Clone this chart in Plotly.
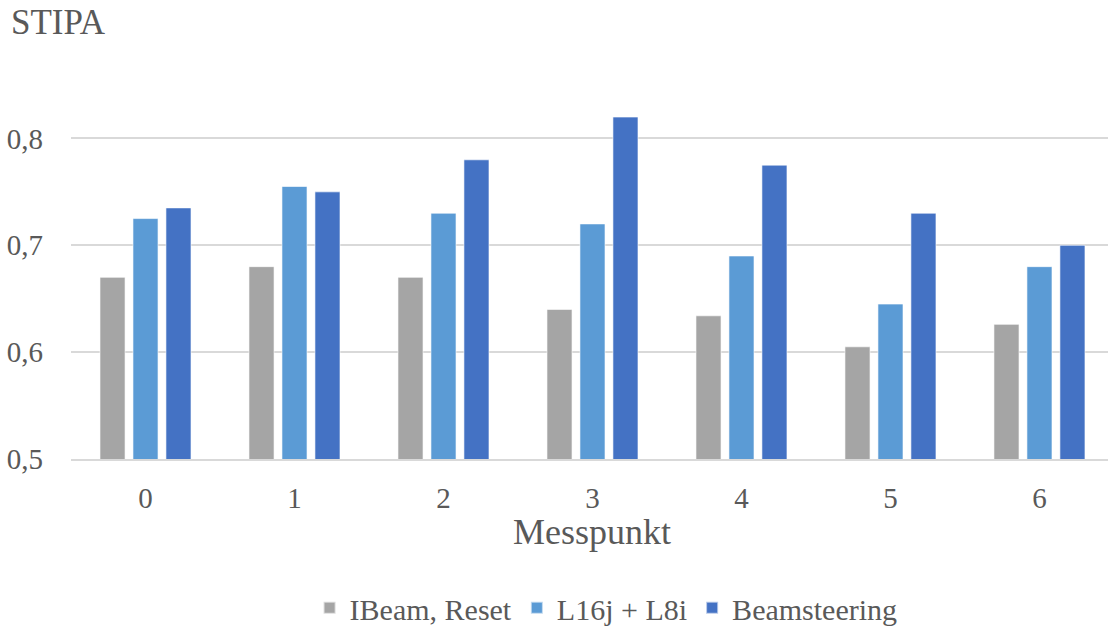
import plotly.graph_objects as go

categories = ["0", "1", "2", "3", "4", "5", "6"]
ibeam_reset = [0.67, 0.68, 0.67, 0.64, 0.634, 0.605, 0.626]
l16j_l8i = [0.725, 0.755, 0.73, 0.72, 0.69, 0.645, 0.68]
beamsteering = [0.735, 0.75, 0.78, 0.82, 0.775, 0.73, 0.70]
series_names = ["IBeam, Reset", "L16j + L8i", "Beamsteering"]
y_ticks = [0.5, 0.6, 0.7, 0.8]

colors = ["#A5A5A5", "#5B9BD5", "#4472C4"]
FONT = "'Liberation Serif', 'Times New Roman', 'DejaVu Serif', serif"
TXT = "#595959"

fig = go.Figure()
for name, vals, col in zip(series_names, [ibeam_reset, l16j_l8i, beamsteering], colors):
    fig.add_trace(go.Bar(
        x=list(range(len(categories))), y=vals, name=name,
        marker=dict(color=col, line=dict(color="rgba(255,255,255,0.6)", width=1)),
    ))

fig.update_layout(
    width=1108, height=626,
    margin=dict(l=71, r=0, t=85, b=167, autoexpand=False),
    paper_bgcolor="white", plot_bgcolor="white",
    barmode="group", bargap=0.336, bargroupgap=0.24,
    separators=", ",
    font=dict(family=FONT, color=TXT, size=28),
    showlegend=True,
    legend=dict(orientation="h", x=0.516, xanchor="center", y=-0.398, yanchor="middle",
                font=dict(size=30, color=TXT, family=FONT), itemsizing="constant",
                traceorder="normal", itemwidth=30, tracegroupgap=0),
    xaxis=dict(
        range=[-0.5, 6.46], tickmode="array",
        tickvals=list(range(len(categories))), ticktext=categories,
        showgrid=False, showline=True, linecolor="#D9D9D9", linewidth=2,
        ticks="", ticklabelstandoff=12, tickfont=dict(size=29, color=TXT, family=FONT),
    ),
    yaxis=dict(
        range=[0.5, 0.85], tickmode="array", tickvals=y_ticks, tickformat=".1f",
        showgrid=True, gridcolor="#D9D9D9", gridwidth=2, zeroline=False,
        showline=False, ticks="", ticklabelstandoff=27,
        tickfont=dict(size=29, color=TXT, family=FONT),
    ),
    annotations=[
        dict(text="STIPA", xref="paper", yref="paper", x=-71/1037, y=(626-167-22)/374,
             xanchor="left", yanchor="middle", showarrow=False, xshift=9,
             font=dict(size=35, color=TXT, family=FONT)),
        dict(text="Messpunkt", xref="paper", yref="paper", x=(592-71)/1037, y=(459-532)/374,
             xanchor="center", yanchor="middle", showarrow=False,
             font=dict(size=36, color=TXT, family=FONT)),
    ],
)

fig.write_html("out.html")
